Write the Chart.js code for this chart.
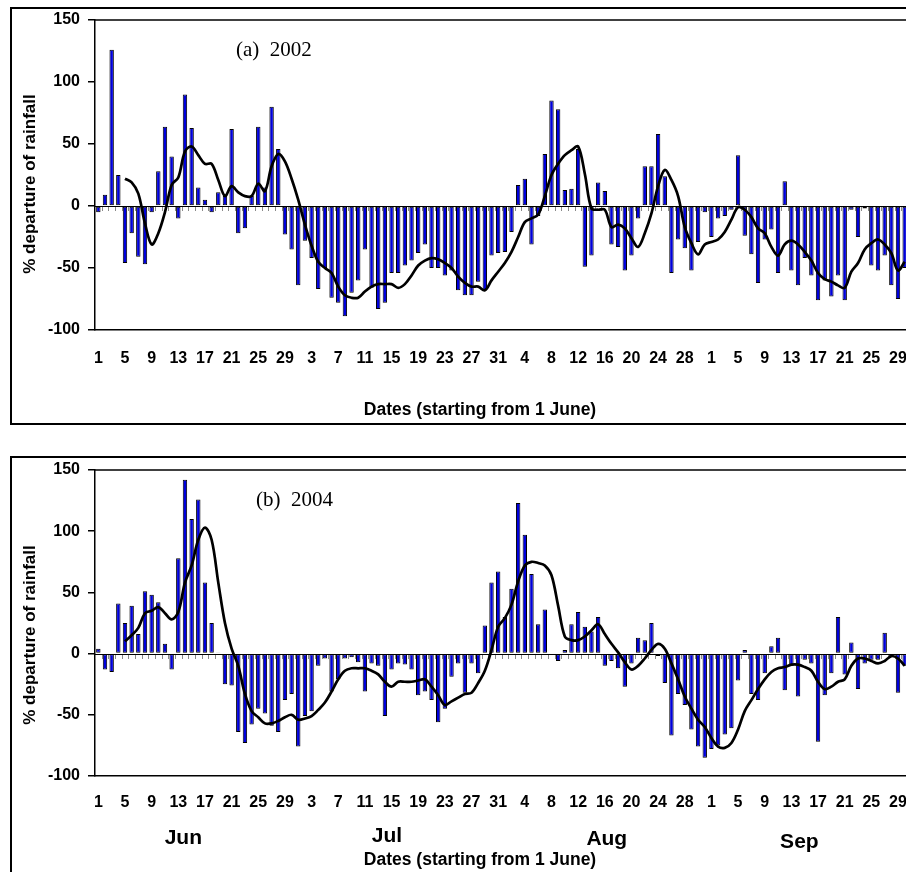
<!DOCTYPE html>
<html>
<head>
<meta charset="utf-8">
<script src="https://cdn.jsdelivr.net/npm/chart.js@4/dist/chart.umd.min.js"></script>
<style>
html,body{margin:0;padding:0;background:#fff;overflow:hidden;width:906px;height:872px;position:relative;}
.frame{position:absolute;border:2px solid #000;box-sizing:border-box;}
.wrap{position:absolute;left:0;width:940px;height:422px;}
canvas{display:block;}
</style>
</head>
<body>
<div class="frame" style="left:10px;top:7px;width:1000px;height:418px"></div>
<div class="frame" style="left:10px;top:456px;width:1000px;height:500px"></div>
<div class="wrap" style="top:0"><canvas id="c1" width="940" height="422"></canvas></div>
<div class="wrap" style="top:450px"><canvas id="c2" width="940" height="422"></canvas></div>
<script>
// ---- data ----
const dayLabels = [
 "1","2","3","4","5","6","7","8","9","10","11","12","13","14","15","16","17","18","19","20","21","22","23","24","25","26","27","28","29","30",
 "1","2","3","4","5","6","7","8","9","10","11","12","13","14","15","16","17","18","19","20","21","22","23","24","25","26","27","28","29","30","31",
 "1","2","3","4","5","6","7","8","9","10","11","12","13","14","15","16","17","18","19","20","21","22","23","24","25","26","27","28","29","30","31",
 "1","2","3","4","5","6","7","8","9","10","11","12","13","14","15","16","17","18","19","20","21","22","23","24","25","26","27","28","29","30"
];
const yTicks = [-100, -50, 0, 50, 100, 150];
const monthNames = ["Jun", "Jul", "Aug", "Sep"];

// (a) 2002 daily % departure
const bars2002 = [
 -5, 9, 126, 25, -46, -22, -41, -47, -5, 28, 64, 40, -10, 90, 63, 15, 5, -5, 11, 8, 62, -22, -18, 8, 64, 15, 80, 46, -23, -35,
 -64, -28, -42, -67, -50, -74, -78, -89, -70, -60, -35, -66, -83, -78, -54, -54, -48, -44, -38, -31, -50, -50, -56, -52, -68, -72, -72, -61, -68, -40, -38,
 -37, -21, 17, 22, -31, -8, 42, 85, 78, 13, 14, 46, -49, -40, 19, 12, -31, -33, -52, -40, -10, 32, 32, 58, 24, -54, -27, -34, -52, -29, -5,
 -25, -10, -8, -3, 41, -24, -39, -62, -27, -19, -54, 20, -52, -64, -42, -56, -76, -60, -73, -56, -76, -3, -25, -2, -48, -52, -40, -64, -75, -50
];
const smooth2002 = [
 null, null, null, null, 22, 19, 10, -14, -31, -22, -5, 17, 23, 44, 48, 41, 34, 34, 21, 8, 16, 11, 8, 8, 18, 12, 32, 42, 36, 22,
 5, -15, -32, -45, -50, -54, -65, -72, -74, -74, -69, -65, -63, -63, -63, -66, -63, -56, -48, -44, -42, -43, -46, -50, -57, -62, -65, -65, -68, -60, -53,
 -46, -37, -25, -13, -10, -7, 8, 25, 34, 41, 45, 48, 26, -2, -3, -3, -17, -15, -18, -26, -33, -22, -6, 16, 29, 21, 8, -17, -30, -39, -31,
 -29, -27, -21, -11, -1, -3, -9, -18, -22, -33, -40, -31, -28, -31, -37, -44, -54, -59, -61, -64, -66, -53, -46, -35, -30, -27, -31, -38, -52, -45
];

// (b) 2004 daily % departure
const bars2004 = [
 4, -13, -15, 41, 25, 39, 16, 51, 48, 42, 8, -13, 78, 142, 110, 126, 58, 25, 1, -25, -26, -64, -73, -58, -45, -49, -59, -64, -38, -33,
 -76, -51, -47, -10, -4, -31, -21, -4, -3, -7, -31, -8, -10, -51, -13, -8, -9, -13, -34, -31, -38, -56, -45, -19, -8, -32, -8, -16, 23, 58, 67,
 30, 53, 123, 97, 65, 24, 36, 0, -6, 3, 24, 34, 22, 18, 30, -10, -6, -12, -27, -8, 13, 11, 25, -2, -24, -67, -33, -42, -62, -76, -85,
 -78, -75, -66, -61, -22, 3, -33, -38, -16, 6, 13, -30, -10, -35, -5, -8, -72, -34, -16, 30, -17, 9, -29, -8, -5, -5, 17, -3, -32, -10
];
const smooth2004 = [
 null, null, null, null, 10, 15, 21, 33, 35, 38, 33, 28, 34, 58, 72, 93, 103, 93, 58, 25, 4, -10, -33, -47, -52, -57, -57, -55, -52, -50,
 -54, -53, -51, -46, -40, -31, -21, -14, -12, -12, -12, -14, -17, -23, -27, -23, -23, -23, -22, -21, -27, -34, -42, -39, -36, -33, -32, -24, -14, 3, 22,
 29, 40, 59, 72, 75, 74, 72, 64, 39, 14, 11, 11, 14, 19, 24, 16, 8, 1, -7, -13, -10, -4, 3, 8, 4, -8, -21, -35, -45, -54, -60,
 -69, -76, -77, -73, -62, -47, -38, -29, -21, -15, -12, -11, -9, -9, -11, -14, -23, -29, -27, -23, -21, -10, -4, -4, -6, -8, -6, -2, -4, -10
];

// ---- drawing ----
const SANS = '"Liberation Sans", Arial, Helvetica, sans-serif';
const SERIF = '"Liberation Serif", "Times New Roman", serif';

const panelPlugin = {
  id: 'panel',
  beforeDatasetsDraw(chart, args, o) {
    const {ctx, chartArea: a, scales: {x, y}} = chart;
    ctx.save();
    ctx.strokeStyle = '#000';
    ctx.lineWidth = 1.5;
    ctx.beginPath();
    ctx.moveTo(a.left, a.top);
    ctx.lineTo(a.right, a.top);
    ctx.stroke();
    const y0 = Math.round(y.getPixelForValue(0));
    const x0 = x.getPixelForValue(0);
    const step = x.getPixelForValue(1) - x0;
    ctx.strokeStyle = '#8a8a8a';
    ctx.lineWidth = 1;
    ctx.beginPath();
    for (let i = 0; i <= dayLabels.length; i++) {
      const px = Math.round(x0 + (i - 0.5) * step) + 0.5;
      ctx.moveTo(px, y0);
      ctx.lineTo(px, y0 + 5);
    }
    ctx.stroke();
    ctx.strokeStyle = '#000';
    ctx.lineWidth = 1.2;
    ctx.beginPath();
    ctx.moveTo(a.left, y0 + 0.5);
    ctx.lineTo(a.right, y0 + 0.5);
    ctx.stroke();
    ctx.restore();
  },
  afterDraw(chart, args, o) {
    const {ctx, scales: {x}} = chart;
    ctx.save();
    ctx.fillStyle = '#000';
    ctx.font = '21px ' + SERIF;
    ctx.textAlign = 'left';
    ctx.textBaseline = 'middle';
    ctx.fillText(o.label, o.labelX, o.labelY);
    ctx.font = 'bold 17px ' + SANS;
    ctx.textAlign = 'center';
    ctx.translate(o.yTitleX, o.yTitleY);
    ctx.rotate(-Math.PI / 2);
    ctx.fillText('% departure of rainfall', 0, 0);
    ctx.setTransform(1, 0, 0, 1, 0, 0);
    ctx.font = 'bold 17.5px ' + SANS;
    ctx.fillText('Dates (starting from 1 June)', o.xTitleX, o.xTitleY);
    if (o.months) {
      const x0 = x.getPixelForValue(0);
      const step = x.getPixelForValue(1) - x0;
      ctx.font = 'bold 21px ' + SANS;
      monthNames.forEach((m, k) => {
        ctx.fillText(m, x0 + o.monthPos[k] * step, o.monthY[k]);
      });
    }
    ctx.restore();
  }
};

function build(id, bars, line, cfg) {
  return new Chart(document.getElementById(id), {
    type: 'bar',
    data: {
      labels: dayLabels,
      datasets: [
        { type: 'line', data: line, borderColor: '#000', borderWidth: 2.7, pointRadius: 0,
          tension: 0.35, fill: false, order: 0, spanGaps: false },
        { type: 'bar', data: bars, backgroundColor: '#0000dd', borderColor: '#000', borderWidth: 1,
          borderSkipped: false, barPercentage: 0.66, categoryPercentage: 1, order: 1 }
      ]
    },
    options: {
      responsive: false,
      animation: false,
      devicePixelRatio: 1,
      layout: { padding: { left: 15, top: 20, right: 32, bottom: 0 } },
      plugins: { legend: { display: false }, tooltip: { enabled: false }, panel: cfg },
      scales: {
        x: {
          type: 'category',
          offset: true,
          grid: { display: false, drawTicks: false },
          border: { display: true, color: '#000', width: 1.5 },
          ticks: {
            autoSkip: false, maxRotation: 0, minRotation: 0, padding: cfg.tickPad, color: '#000',
            font: { family: SANS, size: 16, weight: 'bold' },
            callback: (v, i) => (i % 4 === 0 ? dayLabels[i] : '')
          },
          afterFit: s => { s.height = cfg.xHeight; }
        },
        y: {
          min: yTicks[0],
          max: yTicks[yTicks.length - 1],
          afterBuildTicks: s => { s.ticks = yTicks.map(v => ({ value: v })); },
          grid: { drawOnChartArea: false, drawTicks: true, tickLength: 7, color: '#000', lineWidth: 1.5 },
          border: { display: true, color: '#000', width: 1.5 },
          ticks: { padding: 8, color: '#000', font: { family: SANS, size: 16, weight: 'bold' } },
          afterFit: s => { s.width = 80; }
        }
      }
    },
    plugins: [panelPlugin]
  });
}

build('c1', bars2002, smooth2002, {
  label: '(a)  2002', labelX: 236, labelY: 50,
  yTitleX: 30, yTitleY: 184, xTitleX: 480, xTitleY: 410,
  tickPad: 19, xHeight: 92, months: false
});
build('c2', bars2004, smooth2004, {
  label: '(b)  2004', labelX: 256, labelY: 50,
  yTitleX: 30, yTitleY: 185, xTitleX: 480, xTitleY: 410,
  tickPad: 17, xHeight: 96, months: true,
  monthPos: [12.75, 43.3, 76.3, 105.2], monthY: [388, 386, 389, 392]
});
</script>
</body>
</html>
